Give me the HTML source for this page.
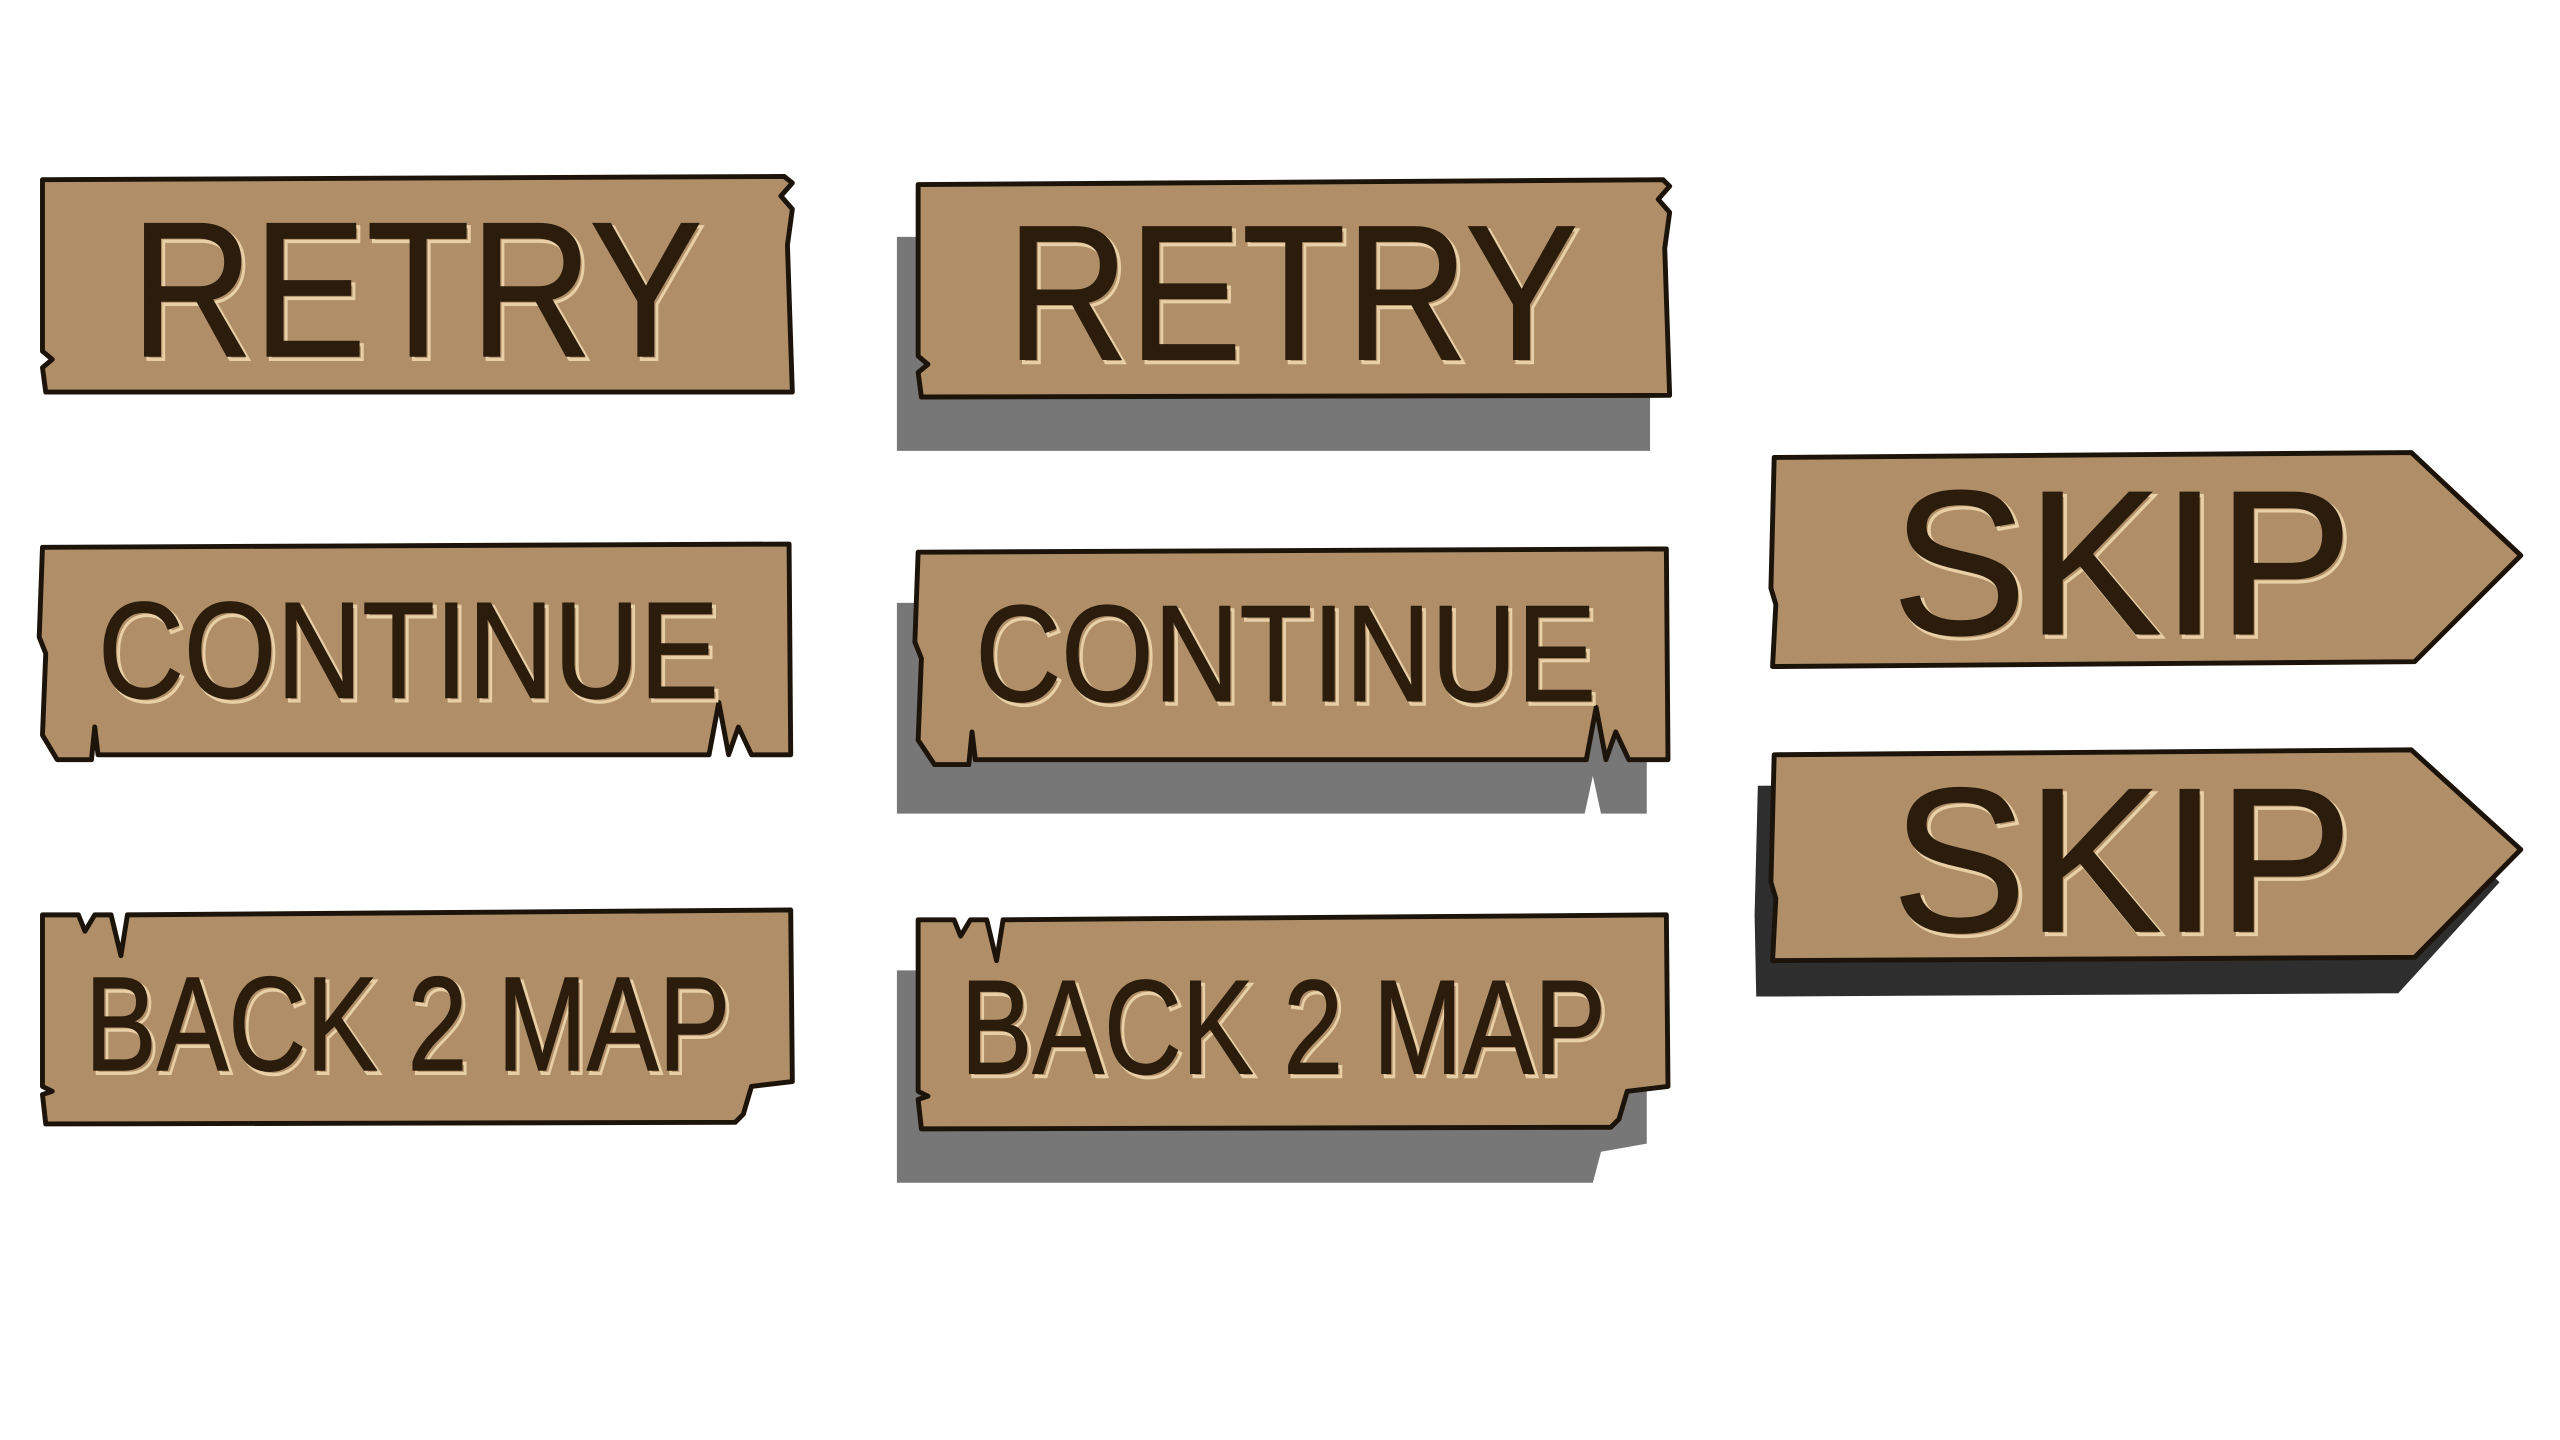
<!DOCTYPE html>
<html><head><meta charset="utf-8"><style>
html,body{margin:0;padding:0;background:#fff;width:2560px;height:1440px;overflow:hidden}
svg{display:block}
text{font-family:"Liberation Sans",sans-serif;fill:#2b1c0c;stroke:#2b1c0c;stroke-width:0.8}
.hl{fill:none;stroke:#e8cfa6;stroke-width:2}
.board{fill:#b08f68;stroke:#1c130a;stroke-width:3;stroke-linejoin:round}
.shadow{fill:#777}
.shadow2{fill:#2e2e2e}
</style></head><body>
<svg width="2560" height="1440" viewBox="0 0 1567 881" preserveAspectRatio="xMinYMin meet">
<!-- column 1 -->
<g>
<polygon class="board" points="26,110 480,108 485,112 478,120 485,128 482,150 485,240 28,240 26,225 32,220 26,215"/>
<text x="80" y="218" font-size="118" textLength="350" lengthAdjust="spacingAndGlyphs" class="hl" transform="translate(2,2)">RETRY</text>
<text x="80" y="218" font-size="118" textLength="350" lengthAdjust="spacingAndGlyphs">RETRY</text>
</g>
<g>
<polygon class="board" points="26,335 483,333 484,462 460,462 452,445 446,462 440,430 434,462 60,462 58,445 56,465 35,465 26,450 28,400 24,390"/>
<text x="60" y="427" font-size="84" textLength="380" lengthAdjust="spacingAndGlyphs" class="hl" transform="translate(2,2)">CONTINUE</text>
<text x="60" y="427" font-size="84" textLength="380" lengthAdjust="spacingAndGlyphs">CONTINUE</text>
</g>
<g>
<polygon class="board" points="26,560 48,560 52,570 58,560 68,560 74,585 78,560 484,557 485,662 460,665 455,682 450,687 28,688 26,670 32,668 26,665"/>
<text x="52" y="655" font-size="82" textLength="395" lengthAdjust="spacingAndGlyphs" class="hl" transform="translate(2,2)">BACK 2 MAP</text>
<text x="52" y="655" font-size="82" textLength="395" lengthAdjust="spacingAndGlyphs">BACK 2 MAP</text>
</g>
<!-- column 2 -->
<g>
<polygon class="shadow" points="549,145 1010,145 1010,276 549,276"/>
<polygon class="board" points="562,113 1018,110 1022,114 1015,122 1022,130 1019,152 1022,242 564,243 562,228 568,223 562,218"/>
<text x="616" y="220" font-size="118" textLength="350" lengthAdjust="spacingAndGlyphs" class="hl" transform="translate(2,2)">RETRY</text>
<text x="616" y="220" font-size="118" textLength="350" lengthAdjust="spacingAndGlyphs">RETRY</text>
</g>
<g>
<polygon class="shadow" points="549,369 1008,369 1008,498 980,498 975,475 970,498 549,498"/>
<polygon class="board" points="562,338 1020,336 1021,465 997,465 989,448 983,465 977,433 971,465 597,465 595,448 593,468 572,468 562,453 564,403 560,393"/>
<text x="597" y="429" font-size="84" textLength="380" lengthAdjust="spacingAndGlyphs" class="hl" transform="translate(2,2)">CONTINUE</text>
<text x="597" y="429" font-size="84" textLength="380" lengthAdjust="spacingAndGlyphs">CONTINUE</text>
</g>
<g>
<polygon class="shadow" points="549,594 1008,594 1008,700 980,705 975,724 549,724"/>
<polygon class="board" points="562,563 584,563 588,573 594,563 604,563 610,588 614,563 1020,560 1021,665 996,668 991,685 986,690 564,691 562,673 568,671 562,668"/>
<text x="588" y="657" font-size="82" textLength="395" lengthAdjust="spacingAndGlyphs" class="hl" transform="translate(2,2)">BACK 2 MAP</text>
<text x="588" y="657" font-size="82" textLength="395" lengthAdjust="spacingAndGlyphs">BACK 2 MAP</text>
</g>
<!-- column 3 -->
<g>
<polygon class="board" points="1086,280 1476,277 1543,340 1478,405 1085,408 1087,370 1084,360"/>
<text x="1158" y="388" font-size="126" textLength="282" lengthAdjust="spacingAndGlyphs" class="hl" transform="translate(2,2)">SKIP</text>
<text x="1158" y="388" font-size="126" textLength="282" lengthAdjust="spacingAndGlyphs">SKIP</text>
</g>
<g>
<polygon class="shadow2" points="1076,481 1465,478 1530,540 1468,608 1075,610 1074,560"/>
<polygon class="board" points="1086,462 1476,459 1543,520 1478,586 1085,588 1087,550 1084,540"/>
<text x="1158" y="570" font-size="126" textLength="282" lengthAdjust="spacingAndGlyphs" class="hl" transform="translate(2,2)">SKIP</text>
<text x="1158" y="570" font-size="126" textLength="282" lengthAdjust="spacingAndGlyphs">SKIP</text>
</g>
</svg>
</body></html>
